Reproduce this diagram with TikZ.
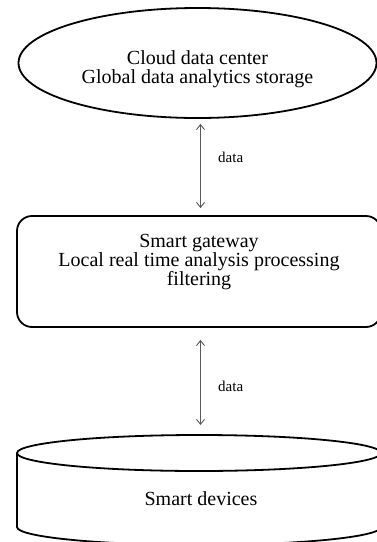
\documentclass[tikz,border=0pt]{standalone}
\usepackage{fontspec}
\setmainfont{Liberation Serif}
\usetikzlibrary{arrows.meta,shapes.geometric,calc}
\begin{document}
\begin{tikzpicture}[x=1pt,y=-1pt,
  shapeline/.style={draw=black,line width=1.8pt},
  maintext/.style={font=\fontsize{20}{19}\selectfont,align=center,inner sep=0pt},
  link/.style={draw=black!65,line width=0.9pt,{Straight Barb[length=5pt,width=8pt]}-{Straight Barb[length=5pt,width=8pt]}},
  linklabel/.style={font=\fontsize{15}{15}\selectfont,anchor=west,inner sep=0pt}]
\useasboundingbox (0,0) rectangle (377,542);

% cloud tier
\node[ellipse,shapeline,minimum width=358pt,minimum height=110pt,inner sep=0pt] (cloud) at (197.5,63) {};
\node[maintext] (cloudtext) at (197.5,69) {Cloud data center\\Global data analytics storage};

% gateway tier
\node[rectangle,rounded corners=15pt,shapeline,minimum width=364pt,minimum height=111pt,inner sep=0pt] (gw) at (199,271.5) {};
\node[maintext] (gwtext) at (199,262) {Smart gateway\\Local real time analysis processing\\filtering};

% device tier (cylinder)
\coordinate (devtop) at (199,435);
\draw[shapeline] (199,453) ellipse [x radius=182, y radius=18];
\draw[shapeline] (17,453) -- (17,527) arc[start angle=180,end angle=0,x radius=182,y radius=18] -- (381,453);
\node[maintext] (devices) at (201,499) {Smart devices};

% data links
\draw[link] ($(cloud.south)+(3,5)$) -- ($(gw.north)+(1.5,-7)$);
\node[linklabel] (data1) at (218,157) {data};
\draw[link] ($(gw.south)+(1.5,12)$) -- ($(devtop)+(1.5,-10)$);
\node[linklabel] (data2) at (218,386) {data};
\end{tikzpicture}
\end{document}
